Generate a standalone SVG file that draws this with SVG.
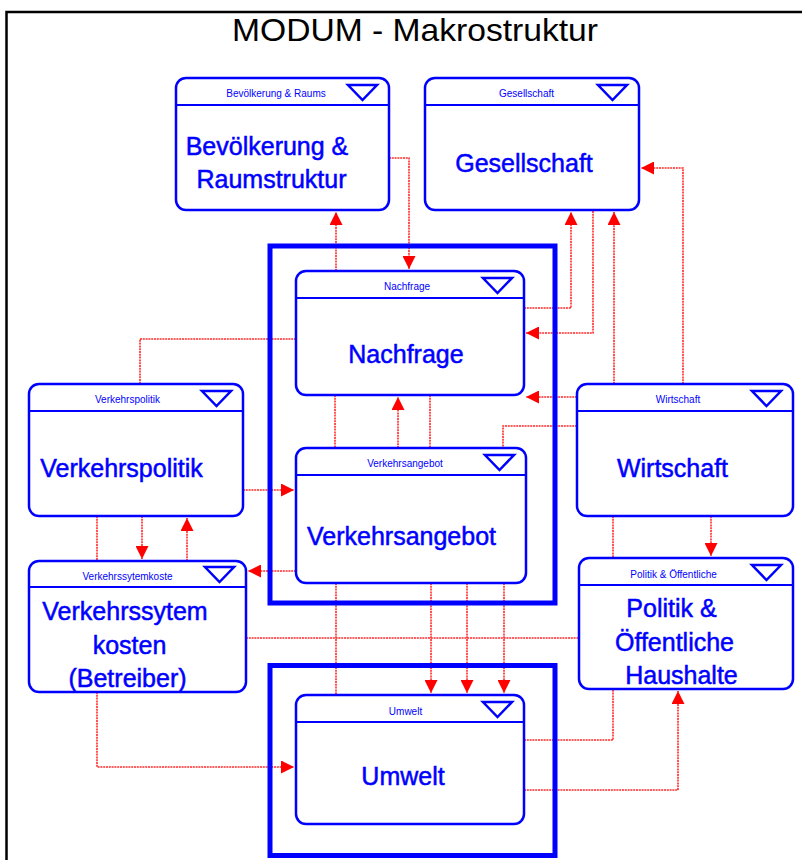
<svg xmlns="http://www.w3.org/2000/svg" width="802" height="860" viewBox="0 0 802 860">
<defs>
<marker id="ah" markerUnits="userSpaceOnUse" markerWidth="13" markerHeight="13" viewBox="0 0 12 12" refX="12" refY="6" orient="auto">
<path d="M0,0 L12,6 L0,12 z" fill="#ff0000"/>
</marker>
</defs>
<style>
.box{fill:#fff;stroke:#0000ff;stroke-width:2.5}
.hl{stroke:#0000ff;stroke-width:2;fill:none}
.tri{fill:#fff;stroke:#0000ff;stroke-width:2.5;stroke-linejoin:miter}
.ht{font-family:"Liberation Sans",Arial,sans-serif;font-size:10px;fill:#0000ff;text-anchor:middle}
.mt{font-family:"Liberation Sans",Arial,sans-serif;font-size:25px;fill:#0000ff;stroke:#0000ff;stroke-width:0.5;text-anchor:middle}
.c{fill:none;stroke:#ff2a2a;stroke-width:1.6;stroke-dasharray:2 0.8}
.a{marker-end:url(#ah)}
.frame{fill:none;stroke:#0000ff;stroke-width:5}
</style>
<rect width="802" height="860" fill="#fff"/>
<path d="M6.5,860 V12 H802" fill="none" stroke="#000" stroke-width="2.5"/>
<text x="232" y="41" font-family="'Liberation Sans',Arial,sans-serif" font-size="32" fill="#000" textLength="366" lengthAdjust="spacingAndGlyphs">MODUM - Makrostruktur</text>

<g id="connectors">
<path class="c a" d="M336,271 V212"/>
<path class="c a" d="M389,158 H409 V269"/>
<path class="c a" d="M524,308 H571 V212"/>
<path class="c a" d="M593,211 V333 H526"/>
<path class="c a" d="M614,384 V212"/>
<path class="c a" d="M683,384 V168 H641"/>
<path class="c a" d="M577,397 H526"/>
<path class="c" d="M577,426 H503 V448"/>
<path class="c a" d="M398,448 V397"/>
<path class="c" d="M335,395 V448"/>
<path class="c" d="M430,395 V448"/>
<path class="c" d="M296,339 H140 V384"/>
<path class="c a" d="M243,490 H294"/>
<path class="c a" d="M296,571 H248"/>
<path class="c" d="M97,516 V561"/>
<path class="c a" d="M142,516 V559"/>
<path class="c a" d="M187,561 V518"/>
<path class="c a" d="M97,692 V767 H294"/>
<path class="c" d="M246,638 H579"/>
<path class="c a" d="M711,516 V556"/>
<path class="c" d="M613,516 V558"/>
<path class="c" d="M336,583 V695"/>
<path class="c a" d="M431,583 V693"/>
<path class="c a" d="M467,583 V693"/>
<path class="c a" d="M504,583 V693"/>
<path class="c" d="M524,740 H613 V689"/>
<path class="c a" d="M524,790 H678 V691"/>
</g>

<g id="groups">
<rect class="frame" x="270" y="246" width="285" height="357"/>
<rect class="frame" x="270" y="665.5" width="285" height="190"/>
</g>

<g id="bevoelkerung">
<rect class="box" x="176" y="78" width="213" height="132" rx="10"/>
<line class="hl" x1="176" y1="105" x2="389" y2="105"/>
<polygon class="tri" points="348,85 377,85 362.5,100"/>
<text class="ht" x="276" y="97">Bevölkerung &amp; Raums</text>
<text class="mt" x="267" y="155">Bevölkerung &amp;</text>
<text class="mt" x="271.5" y="188">Raumstruktur</text>
</g>

<g id="gesellschaft">
<rect class="box" x="425" y="78" width="214" height="132" rx="10"/>
<line class="hl" x1="425" y1="105" x2="639" y2="105"/>
<polygon class="tri" points="598,85 627,85 612.5,100"/>
<text class="ht" x="526.5" y="97">Gesellschaft</text>
<text class="mt" x="524" y="172">Gesellschaft</text>
</g>

<g id="nachfrage">
<rect class="box" x="296" y="271" width="228" height="124" rx="10"/>
<line class="hl" x1="296" y1="298" x2="524" y2="298"/>
<polygon class="tri" points="483,278 512,278 497.5,293"/>
<text class="ht" x="407" y="290">Nachfrage</text>
<text class="mt" x="406" y="363">Nachfrage</text>
</g>

<g id="verkehrsangebot">
<rect class="box" x="296" y="448" width="230" height="135" rx="10"/>
<line class="hl" x1="296" y1="475" x2="526" y2="475"/>
<polygon class="tri" points="485,455 514,455 499.5,470"/>
<text class="ht" x="405" y="467">Verkehrsangebot</text>
<text class="mt" x="401.5" y="545">Verkehrsangebot</text>
</g>

<g id="verkehrspolitik">
<rect class="box" x="29" y="384" width="214" height="132" rx="10"/>
<line class="hl" x1="29" y1="411" x2="243" y2="411"/>
<polygon class="tri" points="202,391 231,391 216.5,406"/>
<text class="ht" x="127.5" y="403">Verkehrspolitik</text>
<text class="mt" x="121.5" y="477">Verkehrspolitik</text>
</g>

<g id="verkehrssystemkosten">
<rect class="box" x="29" y="561" width="217" height="131" rx="10"/>
<line class="hl" x1="29" y1="587" x2="246" y2="587"/>
<polygon class="tri" points="205,567 234,567 219.5,582"/>
<text class="ht" x="127.5" y="580">Verkehrssytemkoste</text>
<text class="mt" x="125" y="620">Verkehrssytem</text>
<text class="mt" x="129.5" y="654">kosten</text>
<text class="mt" x="127.5" y="687">(Betreiber)</text>
</g>

<g id="wirtschaft">
<rect class="box" x="577" y="384" width="216" height="132" rx="10"/>
<line class="hl" x1="577" y1="411" x2="793" y2="411"/>
<polygon class="tri" points="752,391 781,391 766.5,406"/>
<text class="ht" x="678" y="403">Wirtschaft</text>
<text class="mt" x="672.5" y="477">Wirtschaft</text>
</g>

<g id="politik">
<rect class="box" x="579" y="558" width="214" height="131" rx="10"/>
<line class="hl" x1="579" y1="585" x2="793" y2="585"/>
<polygon class="tri" points="752,565 781,565 766.5,580"/>
<text class="ht" x="673.5" y="578">Politik &amp; Öffentliche</text>
<text class="mt" x="671.5" y="617">Politik &amp;</text>
<text class="mt" x="674.5" y="651">Öffentliche</text>
<text class="mt" x="681.5" y="684">Haushalte</text>
</g>

<g id="umwelt">
<rect class="box" x="296" y="695" width="228" height="129" rx="10"/>
<line class="hl" x1="296" y1="722" x2="524" y2="722"/>
<polygon class="tri" points="483,702 512,702 497.5,717"/>
<text class="ht" x="405.5" y="715">Umwelt</text>
<text class="mt" x="403" y="785">Umwelt</text>
</g>
</svg>
